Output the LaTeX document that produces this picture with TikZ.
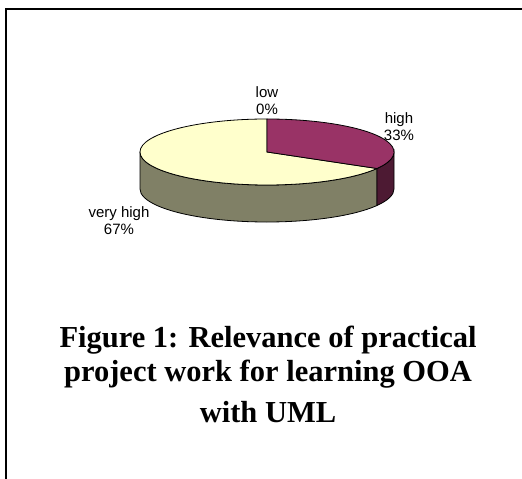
\documentclass[tikz,border=0pt]{standalone}
\usepackage{fontspec}
\setmainfont{Liberation Serif}
\newfontfamily\chartfont{Liberation Sans}
\definecolor{hightop}{HTML}{993366}
\definecolor{highside}{HTML}{4D1A33}
\definecolor{vhightop}{HTML}{FFFFCC}
\definecolor{vhighside}{HTML}{808066}
\tikzset{
  pielabel/.style={align=center, inner sep=0pt, font=\chartfont\fontsize{15}{17}\selectfont},
  captionline/.style={anchor=base, inner sep=0pt, font=\bfseries\fontsize{30.5}{34}\selectfont}
}
\begin{document}
\begin{tikzpicture}[x=1pt,y=1pt]
    \useasboundingbox (0,0) rectangle (522,479);
    \draw[line width=1.5pt] (523,470) -- (6,470) -- (6,-1);
    % pie, 3d look
    \coordinate (top) at (267,327);
    \draw[thick, fill=vhighside] (140,327) arc[start angle=180, end angle=330, x radius=127, y radius=33]
        -- ++(0,-37) arc[start angle=330, end angle=180, x radius=127, y radius=33] -- cycle;
    \draw[thick, fill=highside] (top) ++(330:127 and 33) arc[start angle=330, end angle=360, x radius=127, y radius=33]
        -- ++(0,-37) arc[start angle=360, end angle=330, x radius=127, y radius=33] -- cycle;
    \draw[thick, fill=vhightop] (top) -- ++(0,33) arc[start angle=90, end angle=330, x radius=127, y radius=33] -- cycle;
    \draw[thick, fill=hightop] (top) -- ++(330:127 and 33) arc[start angle=330, end angle=450, x radius=127, y radius=33] -- cycle;
    \node[pielabel] (low) at (267,378.5) {low\\0\%};
    \node[pielabel] (high) at (399,352) {high\\33\%};
    \node[pielabel] (veryhigh) at (119,258.5) {very high\\67\%};
    % caption
    \node[captionline] (cap1) at (268,131) {Figure 1: Relevance of practical};
    \node[captionline] (cap2) at (268,97) {project work for learning OOA};
    \node[captionline] (cap3) at (268,56) {with UML};
\end{tikzpicture}
\end{document}
